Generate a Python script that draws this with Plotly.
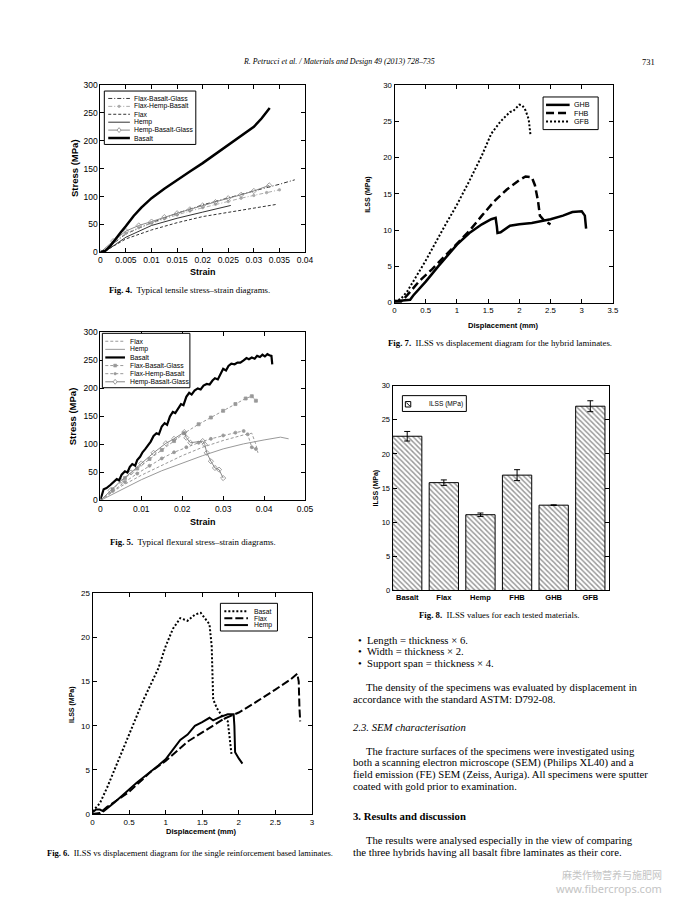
import plotly.graph_objects as go

W, H = 678, 905
def PX(x): return x / W
def PY(y): return 1 - y / H

SANS = "Liberation Sans, Arial, sans-serif"
SERIF = "Liberation Serif, Times New Roman, serif"
CJK = "Noto Sans CJK SC"

# ---------------- Fig. 4 : tensile stress-strain ----------------
f4_basalt_x = [0, 0.001, 0.002, 0.003, 0.004, 0.005, 0.0065, 0.008, 0.01, 0.0125, 0.015, 0.0175, 0.02, 0.0225, 0.025, 0.0275, 0.03, 0.0315, 0.0331]
f4_basalt_y = [0, 3, 12, 25, 36, 47, 65, 80, 97, 114, 130, 145, 160, 176, 192, 208, 225, 240, 259]
f4_fbg_x = [0, 0.001, 0.002, 0.005, 0.01, 0.015, 0.02, 0.025, 0.03, 0.035, 0.038]
f4_fbg_y = [0, 4, 12, 33, 53, 70, 85, 98, 110, 122, 130]
f4_fhb_x = [0, 0.0025, 0.005, 0.0075, 0.01, 0.0125, 0.015, 0.0175, 0.02, 0.0225, 0.025, 0.0275, 0.03, 0.0325, 0.035]
f4_fhb_y = [0, 18, 34, 44, 52, 60, 67, 74, 80, 86, 91, 97, 102, 107, 112]
f4_flax_x = [0, 0.001, 0.002, 0.005, 0.01, 0.015, 0.02, 0.025, 0.03, 0.0345]
f4_flax_y = [0, 2, 8, 24, 40, 53, 64, 72, 80, 86]
f4_hemp_x = [0, 0.001, 0.002, 0.005, 0.01, 0.015, 0.02, 0.0255]
f4_hemp_y = [0, 2, 8, 27, 48, 61, 72, 84]
f4_hbg_x = [0, 0.0025, 0.005, 0.0075, 0.01, 0.0125, 0.015, 0.0175, 0.02, 0.0225, 0.025, 0.0275, 0.03, 0.033]
f4_hbg_y = [0, 20, 38, 48, 55, 63, 70, 77, 84, 90, 97, 103, 110, 120]

# ---------------- Fig. 5 : flexural stress-strain ----------------
f5_basalt_x = [0, 0.0003, 0.0008, 0.0015, 0.0025, 0.0032, 0.004, 0.0046, 0.0052, 0.006, 0.0066, 0.0072, 0.0078, 0.0085, 0.009,
               0.0097, 0.0103, 0.011, 0.0117, 0.0123, 0.013, 0.0137, 0.0143, 0.015, 0.0157, 0.0163, 0.017, 0.0177, 0.0183, 0.019,
               0.0197, 0.0203, 0.021, 0.0217, 0.0223, 0.023, 0.0238, 0.0245, 0.0252, 0.026, 0.0267, 0.0274, 0.028, 0.0287, 0.0294,
               0.03, 0.0307, 0.0313, 0.032, 0.0328, 0.0335, 0.0342, 0.035, 0.0357, 0.0363, 0.037, 0.0377, 0.0383, 0.039, 0.0396,
               0.0402, 0.0408, 0.0413, 0.0418, 0.042]
f5_basalt_y = [3, 8, 20, 22, 28, 32, 38, 36, 46, 52, 50, 60, 65, 62, 72,
               78, 86, 92, 98, 105, 115, 120, 118, 132, 138, 135, 150, 158, 156, 165,
               172, 170, 185, 192, 189, 196, 200, 198, 205, 208, 207, 214, 218, 216, 226,
               235, 232, 240, 244, 243, 246, 246, 250, 254, 252, 255, 253, 258, 256, 260,
               257, 261, 259, 258, 243]
f5_flax_x = [0, 0.005, 0.01, 0.015, 0.02, 0.025, 0.03, 0.035, 0.037, 0.038, 0.0385]
f5_flax_y = [0, 25, 45, 63, 80, 95, 107, 117, 120, 100, 85]
f5_hemp_x = [0, 0.005, 0.01, 0.015, 0.02, 0.025, 0.03, 0.035, 0.04, 0.044, 0.046]
f5_hemp_y = [0, 18, 37, 53, 67, 80, 92, 101, 108, 113, 110]
f5_fbg_x = [0, 0.003, 0.006, 0.009, 0.012, 0.015, 0.018, 0.0205, 0.024, 0.027, 0.03, 0.033, 0.0355, 0.037, 0.038]
f5_fbg_y = [0, 20, 40, 57, 74, 90, 106, 120, 136, 148, 160, 172, 182, 186, 178]
f5_fhb_x = [0, 0.003, 0.006, 0.009, 0.012, 0.015, 0.018, 0.021, 0.024, 0.027, 0.03, 0.033, 0.035, 0.036, 0.037, 0.038]
f5_fhb_y = [0, 17, 33, 48, 62, 75, 86, 95, 103, 110, 116, 121, 124, 118, 95, 92]
f5_hbg_x = [0, 0.0025, 0.005, 0.0075, 0.01, 0.013, 0.016, 0.018, 0.0205, 0.021, 0.022, 0.025, 0.0255, 0.026, 0.027, 0.028, 0.029, 0.03]
f5_hbg_y = [0, 18, 35, 50, 66, 85, 102, 110, 122, 112, 103, 106, 100, 85, 70, 58, 55, 40]

# ---------------- Fig. 6 : ILSS vs displacement (single) ----------------
f6_basat_x = [0, 0.05, 0.1, 0.2, 0.3, 0.5, 0.7, 0.9, 1.0, 1.1, 1.2, 1.3, 1.4, 1.48, 1.55, 1.6, 1.63, 1.65, 1.7, 1.78, 1.85, 1.9]
f6_basat_y = [0.3, 0.8, 1.2, 3, 5, 9, 13, 16.5, 19, 21, 22.2, 21.9, 22.6, 22.8, 22, 21.5, 19, 13, 12, 11, 10.5, 6.8]
f6_flax_x = [0, 0.1, 0.2, 0.5, 0.8, 1.0, 1.3, 1.6, 1.8, 2.0, 2.2, 2.5, 2.7, 2.8, 2.82, 2.83, 2.84]
f6_flax_y = [0, 0.1, 0.8, 2.5, 4.8, 6.0, 8.2, 9.8, 10.8, 11.5, 12.5, 14.1, 15.2, 15.9, 15, 12, 10.5]
f6_hemp_x = [0, 0.05, 0.1, 0.15, 0.3, 0.6, 0.9, 1.0, 1.1, 1.2, 1.3, 1.4, 1.5, 1.6, 1.65, 1.75, 1.85, 1.93, 1.94, 1.95, 2.0, 2.05]
f6_hemp_y = [0.2, 0.5, 0.5, 0.3, 1.3, 3.5, 5.5, 6.2, 7.3, 8.4, 9.0, 10.0, 10.4, 10.9, 10.6, 11.0, 11.3, 11.3, 10.0, 7.0, 6.3, 5.7]

# ---------------- Fig. 7 : ILSS vs displacement (hybrids) ----------------
f7_ghb_x = [0, 0.2, 0.25, 0.3, 0.5, 0.7, 0.9, 1.0, 1.2, 1.4, 1.55, 1.62, 1.64, 1.65, 1.7, 1.85, 2.0, 2.2, 2.5, 2.7, 2.85, 3.0, 3.05, 3.07]
f7_ghb_y = [0.2, 0.3, 0.4, 1.0, 2.9, 5.0, 7.0, 8.0, 9.6, 10.8, 11.5, 11.7, 10.5, 9.6, 9.7, 10.6, 10.8, 11.0, 11.5, 12.0, 12.5, 12.6, 12.0, 10.2]
f7_fhb_x = [0, 0.1, 0.2, 0.4, 0.6, 0.8, 1.0, 1.2, 1.4, 1.6, 1.8, 2.0, 2.1, 2.2, 2.25, 2.3, 2.33, 2.4, 2.5]
f7_fhb_y = [0, 0.1, 1.0, 3.0, 4.6, 6.4, 8.1, 9.9, 12.0, 14.0, 15.6, 16.9, 17.4, 17.3, 16.2, 14.0, 12.0, 11.3, 10.8]
f7_gfb_x = [0, 0.1, 0.2, 0.35, 0.5, 0.8, 1.0, 1.2, 1.4, 1.55, 1.7, 1.85, 1.9, 2.0, 2.05, 2.1, 2.15, 2.18]
f7_gfb_y = [0.2, 0.5, 1.5, 3.6, 5.8, 10.5, 13.5, 16.8, 20.3, 23.3, 25.0, 26.3, 26.4, 27.3, 27.2, 26.5, 25.3, 23.0]

# ---------------- Fig. 8 : ILSS bar chart ----------------
f8_categories = ["Basalt", "Flax", "Hemp", "FHB", "GHB", "GFB"]
f8_ilss = [22.6, 15.8, 11.1, 16.9, 12.5, 27.0]
f8_err = [0.7, 0.4, 0.25, 0.8, 0.05, 0.8]

fig = go.Figure()

def curve(x, y, ax, color, width, dash="solid", symbol=None, msize=4):
    t = go.Scatter(x=x, y=y, xaxis="x" + ax, yaxis="y" + ax,
                   mode="lines+markers" if symbol else "lines",
                   line=dict(color=color, width=width, dash=dash),
                   showlegend=False, hoverinfo="skip")
    if symbol:
        t.marker = dict(symbol=symbol, size=msize, color=color, line=dict(color=color, width=0.8))
    return t

# Fig 4 (axis "")
fig.add_trace(curve(f4_fbg_x, f4_fbg_y, "", "#333333", 1, "4px,2px,1px,2px"))
fig.add_trace(curve(f4_fhb_x, f4_fhb_y, "", "#aaaaaa", 1, "4px,2px,1px,2px", "circle", 2.5))
fig.add_trace(curve(f4_flax_x, f4_flax_y, "", "#333333", 1, "3px,2px"))
fig.add_trace(curve(f4_hemp_x, f4_hemp_y, "", "#333333", 1))
fig.add_trace(curve(f4_hbg_x, f4_hbg_y, "", "#888888", 1, "solid", "diamond-open", 4))
fig.add_trace(curve(f4_basalt_x, f4_basalt_y, "", "black", 2.5))

# Fig 5 (axis 2)
fig.add_trace(curve(f5_flax_x, f5_flax_y, "2", "#999999", 1, "3px,2px"))
fig.add_trace(curve(f5_hemp_x, f5_hemp_y, "2", "#999999", 1))
fig.add_trace(curve(f5_fbg_x, f5_fbg_y, "2", "#999999", 1, "3px,2px", "square", 3))
fig.add_trace(curve(f5_fhb_x, f5_fhb_y, "2", "#999999", 1, "3px,2px", "circle", 3))
fig.add_trace(curve(f5_hbg_x, f5_hbg_y, "2", "#888888", 1, "solid", "diamond-open", 4))
fig.add_trace(curve(f5_basalt_x, f5_basalt_y, "2", "black", 2.2))

# Fig 6 (axis 3)
fig.add_trace(curve(f6_basat_x, f6_basat_y, "3", "black", 2, "2px,2px"))
fig.add_trace(curve(f6_flax_x, f6_flax_y, "3", "black", 2, "8px,3px"))
fig.add_trace(curve(f6_hemp_x, f6_hemp_y, "3", "black", 2))

# Fig 7 (axis 4)
fig.add_trace(curve(f7_ghb_x, f7_ghb_y, "4", "black", 2.5))
fig.add_trace(curve(f7_fhb_x, f7_fhb_y, "4", "black", 2.5, "8px,4px"))
fig.add_trace(curve(f7_gfb_x, f7_gfb_y, "4", "black", 2, "2px,2px"))

# Fig 8 (axis 5)
fig.add_trace(go.Bar(x=f8_categories, y=f8_ilss, xaxis="x5", yaxis="y5", width=0.8,
                     marker=dict(color="white", line=dict(color="black", width=1),
                                 pattern=dict(shape="\\", size=3.6, solidity=0.4, fgcolor="#333333", bgcolor="white")),
                     error_y=dict(type="data", array=f8_err, color="black", thickness=1, width=3),
                     showlegend=False, hoverinfo="skip"))

def axis(x0, x1, y0, y1, horiz, rng, tvals, fsize, anchor):
    d = dict(range=rng, anchor=anchor, ticks="inside", ticklen=4, tickwidth=1, tickcolor="black",
             showline=True, linecolor="black", linewidth=1, mirror="ticks", showgrid=False,
             zeroline=False, fixedrange=True, tickfont=dict(family=SANS, size=fsize, color="black"))
    if tvals is not None:
        d.update(tickmode="array", tickvals=tvals, ticktext=[("%g" % v) for v in tvals])
    d["domain"] = [PX(x0), PX(x1)] if horiz else [PY(y1), PY(y0)]
    return d

f4_xt = [0, 0.005, 0.01, 0.015, 0.02, 0.025, 0.03, 0.035, 0.04]
f4_yt = [0, 50, 100, 150, 200, 250, 300]
f5_xt = [0, 0.01, 0.02, 0.03, 0.04, 0.05]
f6_xt = [0, 0.5, 1, 1.5, 2, 2.5, 3]
f6_yt = [0, 5, 10, 15, 20, 25]
f7_xt = [0, 0.5, 1, 1.5, 2, 2.5, 3, 3.5]
f7_yt = [0, 5, 10, 15, 20, 25, 30]

layout = dict(
    xaxis=axis(100, 308, 81, 250, True, [0, 0.04], f4_xt, 8.5, "y"),
    yaxis=axis(100, 308, 81, 250, False, [0, 300], f4_yt, 8.5, "x"),
    xaxis2=axis(100, 308, 331, 501, True, [0, 0.05], f5_xt, 8.5, "y2"),
    yaxis2=axis(100, 308, 331, 501, False, [0, 300], f4_yt, 8.5, "x2"),
    xaxis3=axis(92, 315, 595, 818, True, [0, 3], f6_xt, 8, "y3"),
    yaxis3=axis(92, 315, 595, 818, False, [0, 25], f6_yt, 8, "x3"),
    xaxis4=axis(399, 621, 81, 301, True, [0, 3.5], f7_xt, 7.8, "y4"),
    yaxis4=axis(399, 621, 81, 301, False, [0, 30], f7_yt, 7.8, "x4"),
    xaxis5=axis(397, 617, 385, 592, True, [-0.4, 5.51], None, 7, "y5"),
    yaxis5=axis(397, 617, 385, 592, False, [0, 30], f7_yt, 7.5, "x5"),
)
layout["xaxis5"].update(type="category", ticks="", mirror=True,
                        tickfont=dict(family=SANS, size=7.5, color="black", weight="bold"))

shapes = []
ann = []

def text(s, x, y, size, family=SERIF, anchor="left", color="black", angle=0, weight="normal", style="normal"):
    ann.append(dict(text=s, x=PX(x), y=PY(y), xref="paper", yref="paper", xanchor=anchor, yanchor="middle",
                    showarrow=False, textangle=angle,
                    font=dict(family=family, size=size, color=color, weight=weight, style=style)))

def legend_box(box, rows, sw, tx, fsize, entries):
    x0, y0, x1, y1 = box
    shapes.append(dict(type="rect", xref="paper", yref="paper", x0=PX(x0), x1=PX(x1), y0=PY(y1), y1=PY(y0),
                       line=dict(color="black", width=1), fillcolor="white"))
    for yr, (name, color, width, dash, sym) in zip(rows, entries):
        shapes.append(dict(type="line", xref="paper", yref="paper", x0=PX(sw[0]), x1=PX(sw[1]), y0=PY(yr), y1=PY(yr),
                           line=dict(color=color, width=width, dash=dash)))
        cx = (sw[0] + sw[1]) / 2
        if sym == "square":
            shapes.append(dict(type="rect", xref="paper", yref="paper", x0=PX(cx - 1.5), x1=PX(cx + 1.5),
                               y0=PY(yr + 1.5), y1=PY(yr - 1.5), line=dict(color=color, width=0.5), fillcolor=color))
        elif sym == "circle":
            shapes.append(dict(type="circle", xref="paper", yref="paper", x0=PX(cx - 1.3), x1=PX(cx + 1.3),
                               y0=PY(yr + 1.3), y1=PY(yr - 1.3), line=dict(color=color, width=0.5), fillcolor=color))
        elif sym == "diamond":
            p = "M %f,%f L %f,%f L %f,%f L %f,%f Z" % (PX(cx), PY(yr - 2.5), PX(cx + 2), PY(yr), PX(cx), PY(yr + 2.5), PX(cx - 2), PY(yr))
            shapes.append(dict(type="path", xref="paper", yref="paper", path=p, line=dict(color=color, width=0.8), fillcolor="white"))
        text(name, tx, yr, fsize, SANS)

legend_box((104, 87, 197, 141), [94.5 + 8 * i for i in range(6)], (108, 130), 132.5, 6.8, [
    ("Flax-Basalt-Glass", "#333333", 1, "4px,2px,1px,2px", None),
    ("Flax-Hemp-Basalt", "#aaaaaa", 1, "4px,2px,1px,2px", "circle"),
    ("Flax", "#333333", 1, "3px,2px", None),
    ("Hemp", "#333333", 1, "solid", None),
    ("Hemp-Basalt-Glass", "#888888", 1, "solid", "diamond"),
    ("Basalt", "black", 2.5, "solid", None),
])
legend_box((102, 332, 191, 387), [340 + 8.2 * i for i in range(6)], (105, 125), 128, 6.8, [
    ("Flax", "#999999", 1, "3px,2px", None),
    ("Hemp", "#999999", 1, "solid", None),
    ("Basalt", "black", 2.2, "solid", None),
    ("Flax-Basalt-Glass", "#999999", 1, "3px,2px", "square"),
    ("Flax-Hemp-Basalt", "#999999", 1, "3px,2px", "circle"),
    ("Hemp-Basalt-Glass", "#888888", 1, "solid", "diamond"),
])
legend_box((222, 605, 280, 633), [613, 620, 627], (226, 250), 254, 6.8, [
    ("Basat", "black", 2, "2px,2px", None),
    ("Flax", "black", 2, "8px,3px", None),
    ("Hemp", "black", 2, "solid", None),
])
legend_box((550, 93, 606, 126), [101, 109.3, 117.7], (553, 577), 579, 7.2, [
    ("GHB", "black", 2.5, "solid", None),
    ("FHB", "black", 2.5, "8px,4px", None),
    ("GFB", "black", 2, "2px,2px", None),
])
# Fig 8 legend
shapes.append(dict(type="rect", xref="paper", yref="paper", x0=PX(407), x1=PX(472), y0=PY(411), y1=PY(395),
                   line=dict(color="black", width=1), fillcolor="white"))
shapes.append(dict(type="rect", xref="paper", yref="paper", x0=PX(410), x1=PX(415.5), y0=PY(406.5), y1=PY(401),
                   line=dict(color="black", width=1), fillcolor="white"))
shapes.append(dict(type="line", xref="paper", yref="paper", x0=PX(411), x1=PX(414.5), y0=PY(402), y1=PY(405.5),
                   line=dict(color="black", width=1)))
text("ILSS (MPa)", 432.5, 403.3, 6.6, SANS)

# axis titles
text("Stress (MPa)", 73, 165, 9.5, SANS, "center", angle=-90, weight="bold")
text("Strain", 204, 270, 9, SANS, "center", weight="bold")
text("Stress (MPa)", 72, 416, 9.5, SANS, "center", angle=-90, weight="bold")
text("Strain", 204, 523, 9, SANS, "center", weight="bold")
text("ILSS (MPa)", 71, 707, 7, SANS, "center", angle=-90, weight="bold")
text("Displacement (mm)", 203, 836, 7.6, SANS, "center", weight="bold")
text("ILSS (MPa)", 372, 191, 7, SANS, "center", angle=-90, weight="bold")
text("Displacement (mm)", 510, 324, 7.6, SANS, "center", weight="bold")
text("ILSS (MPa)", 380, 488, 7, SANS, "center", angle=-90, weight="bold")

# header
text("R. Petrucci et al. / Materials and Design 49 (2013) 728–735", 343, 57.5, 7.9, SERIF, "center", style="italic")
text("731", 666, 57.5, 8.5, SERIF, "right")

# captions
text("<b>Fig. 4.</b>  Typical tensile stress–strain diagrams.", 191, 288.5, 8.8, SERIF, "center")
text("<b>Fig. 5.</b>  Typical flexural stress–strain diagrams.", 194, 543, 8.8, SERIF, "center")
text("<b>Fig. 6.</b>  ILSS vs displacement diagram for the single reinforcement based laminates.", 191, 857, 8.5, SERIF, "center")
text("<b>Fig. 7.</b>  ILSS vs displacement diagram for the hybrid laminates.", 506, 342, 8.8, SERIF, "center")
text("<b>Fig. 8.</b>  ILSS values for each tested materials.", 506, 617, 8.8, SERIF, "center")

# body text (right column)
body = [
    ("•  Length = thickness × 6.", 360, 641.7, "normal", "normal"),
    ("•  Width = thickness × 2.", 360, 653.7, "normal", "normal"),
    ("•  Support span = thickness × 4.", 360, 665.5, "normal", "normal"),
    ("The density of the specimens was evaluated by displacement in", 368, 689.3, "normal", "normal"),
    ("accordance with the standard ASTM: D792-08.", 355, 701.5, "normal", "normal"),
    ("2.3. SEM characterisation", 355, 730, "normal", "italic"),
    ("The fracture surfaces of the specimens were investigated using", 368, 754, "normal", "normal"),
    ("both a scanning electron microscope (SEM) (Philips XL40) and a", 355, 766, "normal", "normal"),
    ("field emission (FE) SEM (Zeiss, Auriga). All specimens were sputter", 355, 778, "normal", "normal"),
    ("coated with gold prior to examination.", 355, 789.5, "normal", "normal"),
    ("3. Results and discussion", 355, 820, "bold", "normal"),
    ("The results were analysed especially in the view of comparing", 368, 844.5, "normal", "normal"),
    ("the three hybrids having all basalt fibre laminates as their core.", 355, 856.5, "normal", "normal"),
]
for s, x, y, wgt, sty in body:
    text(s, x, y, 10.7, SERIF, "left", weight=wgt, style=sty)

# watermark
text("麻类作物营养与施肥网", 673, 879, 10, CJK, "right", color="#c4c4c4")
text("www.fibercrops.com", 673, 893, 11, "Noto Sans", "right", color="#c4c4c4")

fig.update_layout(width=W, height=H, margin=dict(l=0, r=0, t=0, b=0), paper_bgcolor="white",
                  plot_bgcolor="white", showlegend=False, shapes=shapes, annotations=ann, **layout)
fig.write_html("out.html", config={"displayModeBar": False},
               post_script="document.body.style.margin='0';document.body.style.padding='0';")
